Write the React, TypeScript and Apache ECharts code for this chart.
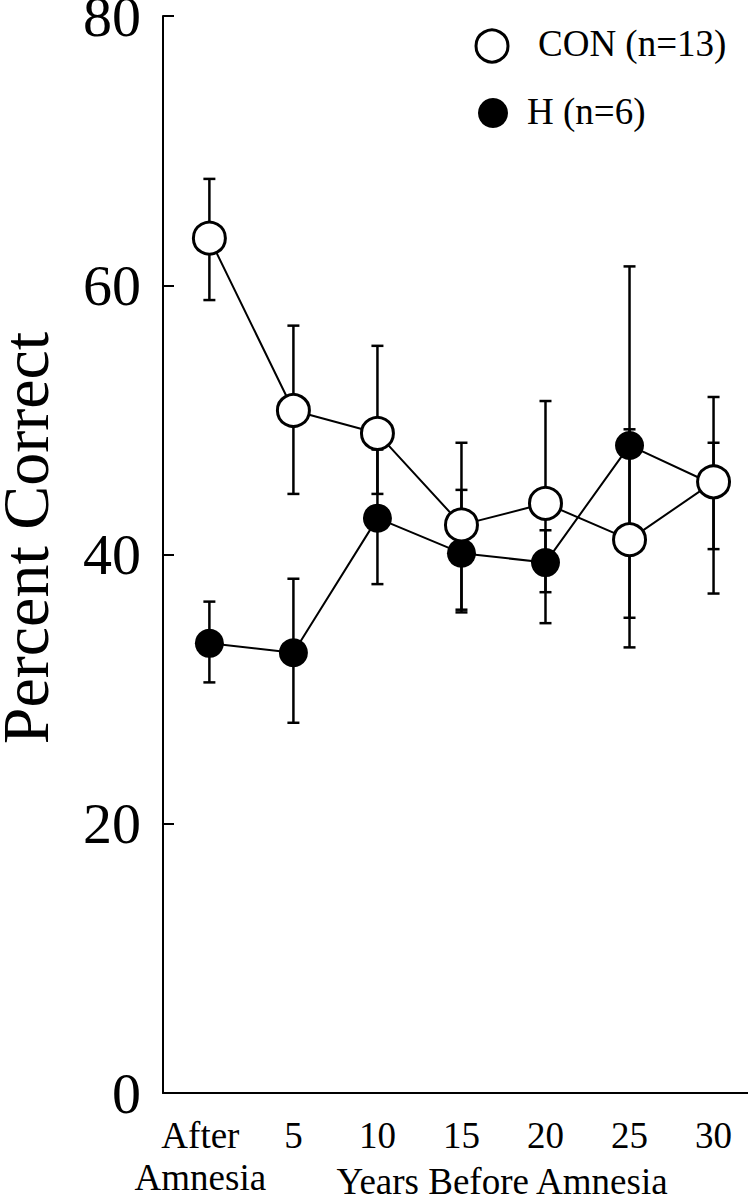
import React, { useEffect, useRef } from "react";
import * as echarts from "echarts";

const categories = ["After\nAmnesia", "5", "10", "15", "20", "25", "30"];
const conMean = [63.5, 50.7, 49.0, 42.2, 43.8, 41.1, 45.4];
const conLow = [58.9, 44.5, 44.5, 35.9, 37.2, 33.1, 37.1];
const conHigh = [67.9, 57.0, 55.5, 48.3, 51.4, 49.3, 51.7];
const hMean = [33.4, 32.7, 42.7, 40.1, 39.4, 48.1, 45.2];
const hLow = [30.5, 27.5, 37.8, 35.7, 34.9, 35.3, 40.4];
const hHigh = [36.5, 38.2, 47.8, 44.8, 41.8, 61.4, 48.3];
const legendLabels = ["CON (n=13)", "H (n=6)"];
const xTitle = "Years Before Amnesia";
const yTitle = "Percent Correct";

const FONT = '"Liberation Serif", "Times New Roman", serif';

function errorBarRender(params: any, api: any) {
  const x = api.value(0);
  const lo = api.coord([x, api.value(1)]);
  const hi = api.coord([x, api.value(2)]);
  const w = 6;
  const style = { stroke: "#000", lineWidth: 2.5 };
  return {
    type: "group",
    children: [
      { type: "line", shape: { x1: lo[0], y1: lo[1], x2: hi[0], y2: hi[1] }, style },
      { type: "line", shape: { x1: lo[0] - w, y1: lo[1], x2: lo[0] + w, y2: lo[1] }, style },
      { type: "line", shape: { x1: hi[0] - w, y1: hi[1], x2: hi[0] + w, y2: hi[1] }, style },
    ],
  };
}

export default function App() {
  const ref = useRef<HTMLDivElement>(null);
  useEffect(() => {
    if (!ref.current) return;
    const chart = echarts.init(ref.current, undefined, { renderer: "svg" });
    const idx = categories.map((_, i) => i);
    chart.setOption({
      animation: false,
      backgroundColor: "#fff",
      grid: {
        left: 163,
        right: 0,
        top: 16,
        bottom: 107,
        containLabel: false,
        outerBoundsMode: "none",
      },
      xAxis: {
        type: "value",
        min: -0.552,
        max: 6.41,
        splitLine: { show: false },
        axisTick: { show: false },
        axisLine: { show: true, onZero: false, lineStyle: { color: "#000", width: 2 } },
        axisLabel: {
          customValues: idx,
          showMinLabel: true,
          showMaxLabel: true,
          hideOverlap: false,
          color: "#000",
          fontFamily: FONT,
          fontSize: 37,
          lineHeight: 42,
          margin: 21,
          formatter: (v: number) => {
            const t = categories[Math.round(v)] ?? "";
            if (t.includes("\n")) {
              return t
                .split("\n")
                .map((s) => `{f|${s}}`)
                .join("\n");
            }
            return t;
          },
          rich: {
            f: {
              fontFamily: FONT,
              fontSize: 37,
              lineHeight: 42,
              color: "#000",
              padding: [0, 18, 0, 0],
            },
          },
        },
      },
      yAxis: {
        type: "value",
        min: 0,
        max: 80,
        interval: 20,
        splitLine: { show: false },
        axisLine: { show: true, onZero: false, lineStyle: { color: "#000", width: 2 } },
        axisTick: { show: true, inside: true, length: 11, lineStyle: { color: "#000", width: 2 } },
        axisLabel: {
          color: "#000",
          fontFamily: FONT,
          fontSize: 58,
          lineHeight: 28,
          margin: 22,
          verticalAlign: "middle",
        },
      },
      series: [
        {
          type: "custom",
          name: "CON error",
          renderItem: errorBarRender,
          data: idx.map((i) => [i, conLow[i], conHigh[i]]),
          z: 1,
          silent: true,
        },
        {
          type: "custom",
          name: "H error",
          renderItem: errorBarRender,
          data: idx.map((i) => [i, hLow[i], hHigh[i]]),
          z: 1,
          silent: true,
        },
        {
          type: "line",
          name: legendLabels[1],
          data: idx.map((i) => [i, hMean[i]]),
          symbol: "circle",
          symbolSize: 29,
          lineStyle: { color: "#000", width: 2 },
          itemStyle: { color: "#000", borderColor: "#000", borderWidth: 0 },
          z: 3,
        },
        {
          type: "line",
          name: legendLabels[0],
          data: idx.map((i) => [i, conMean[i]]),
          symbol: "circle",
          symbolSize: 32,
          lineStyle: { color: "#000", width: 2 },
          itemStyle: { color: "#fff", borderColor: "#000", borderWidth: 3 },
          z: 4,
        },
      ],
      graphic: [
        {
          type: "circle",
          shape: { cx: 492, cy: 46, r: 16 },
          style: { fill: "#fff", stroke: "#000", lineWidth: 3 },
        },
        {
          type: "text",
          style: {
            text: legendLabels[0],
            x: 538,
            y: 43,
            fill: "#000",
            fontFamily: FONT,
            fontSize: 37,
            align: "left",
            verticalAlign: "middle",
          },
        },
        {
          type: "circle",
          shape: { cx: 493, cy: 113, r: 15 },
          style: { fill: "#000" },
        },
        {
          type: "text",
          style: {
            text: legendLabels[1],
            x: 527,
            y: 111,
            fill: "#000",
            fontFamily: FONT,
            fontSize: 37,
            align: "left",
            verticalAlign: "middle",
          },
        },
        {
          type: "text",
          style: {
            text: xTitle,
            x: 502,
            y: 1181,
            fill: "#000",
            fontFamily: FONT,
            fontSize: 37,
            align: "center",
            verticalAlign: "middle",
          },
        },
        {
          type: "text",
          x: 25,
          y: 538,
          rotation: Math.PI / 2,
          style: {
            text: yTitle,
            x: 0,
            y: 0,
            fill: "#000",
            fontFamily: FONT,
            fontSize: 66,
            align: "center",
            verticalAlign: "middle",
          },
        },
      ],
    });
    return () => chart.dispose();
  }, []);
  return (
    <div
      ref={ref}
      style={{ position: "fixed", left: 0, top: 0, width: 748, height: 1200, background: "#fff" }}
    />
  );
}
